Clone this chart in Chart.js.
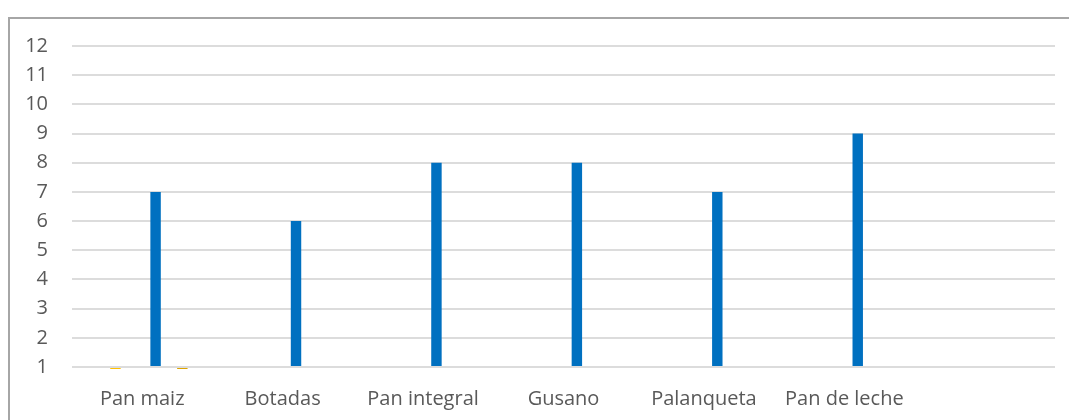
<!DOCTYPE html>
<html lang="es">
<head>
<meta charset="utf-8">
<title>Panes</title>
<script src="https://cdn.jsdelivr.net/npm/chart.js@4/dist/chart.umd.min.js"></script>
<style>
  html, body { margin: 0; padding: 0; background: #ffffff; overflow: hidden; }
  #wrap { position: relative; width: 1069px; height: 420px; }
  #frame {
    position: absolute; left: 8px; top: 17px; width: 1100px; height: 440px;
    border: 2px solid #a6a6a6; box-sizing: border-box; pointer-events: none;
  }
  canvas { position: absolute; left: 0; top: 0; }
</style>
</head>
<body>
<div id="wrap">
  <div id="frame"></div>
  <canvas id="grafico" width="1069" height="420"></canvas>
</div>
<script>
// Categorías del eje horizontal (la última queda sin rótulo)
const categorias = ['Pan maiz', 'Botadas', 'Pan integral', 'Gusano', 'Palanqueta', 'Pan de leche', ''];

// Valores de cada serie, en el orden en que se agrupan dentro de cada categoría
const serie1 = [null, null, null, null, null, null, null];
const serie2 = [0, null, null, null, null, null, null];
const serie3 = [null, null, null, null, null, null, null];
const serie4 = [null, null, null, null, null, null, null];
const serie5 = [7, 6, 8, 8, 7, 9, null];
const serie6 = [null, null, null, null, null, null, null];
const serie7 = [0, null, null, null, null, null, null];

// Eje vertical
const ejeMin = 1;
const ejeMax = 12;
const ejePaso = 1;

const colores = ['#4472C4', '#FFC000', '#A5A5A5', '#ED7D31', '#0070C0', '#70AD47', '#DDA400'];
const series = [serie1, serie2, serie3, serie4, serie5, serie6, serie7];

const fuente = { family: '"Open Sans", "Noto Sans", sans-serif', size: 20 };

new Chart(document.getElementById('grafico'), {
  type: 'bar',
  data: {
    labels: categorias,
    datasets: series.map((valores, i) => ({
      label: 'Serie ' + (i + 1),
      data: valores,
      backgroundColor: colores[i],
      borderWidth: 0,
      base: ejeMin,
      categoryPercentage: 0.6667,
      barPercentage: 0.78,
      // los valores por debajo del mínimo del eje asoman apenas bajo la línea base
      clip: { left: 0, top: 0, right: 0, bottom: 2 }
    }))
  },
  options: {
    responsive: false,
    animation: false,
    layout: { padding: { left: 0, top: 46, right: 14, bottom: 0 } },
    plugins: {
      legend: { display: false },
      tooltip: { enabled: false }
    },
    scales: {
      x: {
        grid: { display: false, drawTicks: false },
        border: { display: false },
        ticks: { color: '#595959', font: fuente, padding: 20, maxRotation: 0, autoSkip: false },
        afterFit: s => { s.height = 53; }
      },
      y: {
        min: ejeMin,
        max: ejeMax,
        beginAtZero: false,
        grid: { color: '#dcdcdc', lineWidth: 2, drawTicks: false },
        border: { display: false },
        ticks: { stepSize: ejePaso, color: '#595959', font: fuente, padding: 24 },
        afterFit: s => { s.width = 72; }
      }
    }
  }
});
</script>
</body>
</html>
